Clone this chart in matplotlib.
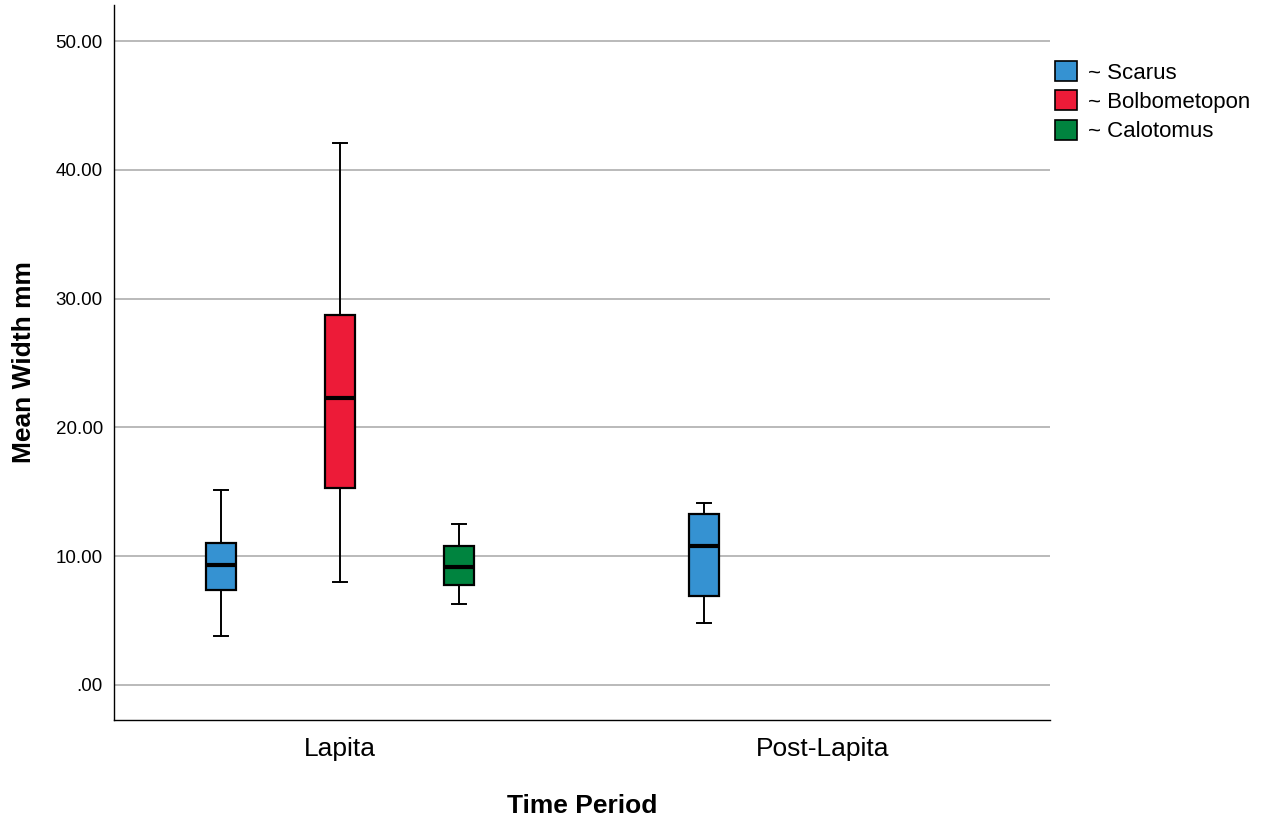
import matplotlib
matplotlib.use("Agg")
import matplotlib.pyplot as plt
from matplotlib.patches import Patch

plt.rcParams['font.family'] = ['Liberation Sans', 'DejaVu Sans']

# Time periods on the x axis
periods = ["Lapita", "Post-Lapita"]
# Taxa shown as grouped boxes
taxa = ["~ Scarus", "~ Bolbometopon", "~ Calotomus"]
colors = ["#3592D2", "#ED1B38", "#00843F"]

# Five-number summaries (whisker low, Q1, median, Q3, whisker high) per period/taxon
lapita_scarus = [3.80, 7.38, 9.32, 11.02, 15.14]
lapita_bolbometopon = [8.00, 15.30, 22.28, 28.73, 42.08]
lapita_calotomus = [6.29, 7.76, 9.16, 10.79, 12.50]
postlapita_scarus = [4.81, 6.91, 10.79, 13.28, 14.13]

# (period index, taxon index, summary)
groups = [
    (0, 0, lapita_scarus),
    (0, 1, lapita_bolbometopon),
    (0, 2, lapita_calotomus),
    (1, 0, postlapita_scarus),
]

yticks = [0, 10, 20, 30, 40, 50]
ytick_labels = [".00", "10.00", "20.00", "30.00", "40.00", "50.00"]

fig = plt.figure(figsize=(12.61, 8.17), dpi=100)
ax = fig.add_axes([0.0904, 0.1187, 0.7423, 0.8752])

offset = 0.2464
width = 0.062

for gi, (pi, ti, s) in enumerate(groups):
    stats = [dict(whislo=s[0], q1=s[1], med=s[2], q3=s[3], whishi=s[4], fliers=[])]
    pos = pi + (ti - 1) * offset
    ax.bxp(stats, positions=[pos], widths=width, patch_artist=True,
           showfliers=False,
           boxprops=dict(facecolor=colors[ti], edgecolor="black", linewidth=1.6),
           medianprops=dict(color="black", linewidth=3),
           whiskerprops=dict(color="black", linewidth=1.4),
           capprops=dict(color="black", linewidth=1.4),
           capwidths=0.03, manage_ticks=False, zorder=3)

ax.set_xlim(-0.468, 1.470)
ax.set_ylim(-2.72, 52.8)
ax.set_yticks(yticks)
ax.set_yticklabels(ytick_labels, fontsize=13.5)
ax.set_xticks(range(len(periods)))
ax.set_xticklabels(periods, fontsize=19)
ax.tick_params(axis="both", length=0)
ax.tick_params(axis="y", pad=8)
ax.tick_params(axis="x", pad=12)
ax.yaxis.grid(True, color="#b4b4b4", linewidth=1.3, zorder=0)
ax.set_axisbelow(True)

for side in ["top", "right"]:
    ax.spines[side].set_visible(False)
for side in ["left", "bottom"]:
    ax.spines[side].set_linewidth(1.0)
    ax.spines[side].set_color("black")

ax.set_xlabel("Time Period", fontsize=19, fontweight="bold", labelpad=24)
ax.set_ylabel("Mean Width mm", fontsize=19, fontweight="bold", labelpad=14)

handles = [Patch(facecolor=c, edgecolor="black", linewidth=1.2) for c in colors]
fig.legend(handles, taxa, loc="upper left", bbox_to_anchor=(0.8297, 0.936),
           frameon=False, fontsize=16, handlelength=1.0, handleheight=1.0,
           handletextpad=0.5, labelspacing=0.3, borderaxespad=0)

fig.savefig("out.png", dpi=100)
